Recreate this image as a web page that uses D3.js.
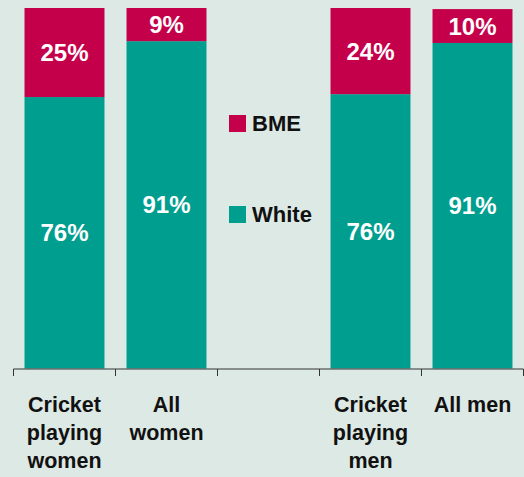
<!DOCTYPE html>
<html>
<head>
<meta charset="utf-8">
<script src="https://cdn.jsdelivr.net/npm/d3@7"></script>
<style>
    html, body { margin: 0; padding: 0; background: #dde9e4; }
    svg { display: block; font-family: "Liberation Sans", Arial, sans-serif; }
</style>
</head>
<body>
<svg id="chart-svg" width="524" height="477"></svg>
<script>
const categories = ["cw", "aw", "gap", "cm", "am"]
const categoryLabels = [
    ["Cricket", "playing", "women"],
    ["All", "women"],
    [],
    ["Cricket", "playing", "men"],
    ["All men"],
]
const whiteValues = [75.3, 90.8, null, 76.1, 90.3]
const bmeValues = [24.7, 9.2, null, 23.9, 9.4]
const whiteLabels = ["76%", "91%", "", "76%", "91%"]
const bmeLabels = ["25%", "9%", "", "24%", "10%"]
const seriesNames = ["BME", "White"]

const colors = { BME: "#c5004a", White: "#009e8e" }

const svg = d3.select("#chart-svg")
const size = { x: 524, y: 477 }
const margin = { left: 13.5, right: 0.5, top: 8, bottom: 108.5 }

const x = d3.scaleBand(categories, [margin.left, size.x - margin.right])
    .paddingInner(0.216)
    .paddingOuter(0.108)
const y = d3.scaleLinear([0, 100], [size.y - margin.bottom, margin.top])

const rows = categories.map((c, i) => ({
    cat: c, White: whiteValues[i], BME: bmeValues[i],
    whiteLabel: whiteLabels[i], bmeLabel: bmeLabels[i], lines: categoryLabels[i],
})).filter(d => d.White != null)

const stack = d3.stack().keys(["White", "BME"])(rows)

svg.append("g").selectAll("g")
    .data(stack)
    .join("g")
    .attr("fill", s => colors[s.key])
    .selectAll("rect")
    .data(s => s)
    .join("rect")
    .attr("x", d => x(d.data.cat))
    .attr("width", x.bandwidth())
    .attr("y", d => y(d[1]))
    .attr("height", d => y(d[0]) - y(d[1]))

// value labels, centred in each segment
stack.forEach(s => {
    svg.append("g").selectAll("text")
        .data(s)
        .join("text")
        .attr("x", d => x(d.data.cat) + x.bandwidth() / 2)
        .attr("y", d => (y(d[0]) + y(d[1])) / 2)
        .attr("dy", "0.36em")
        .attr("text-anchor", "middle")
        .attr("fill", "#fff")
        .attr("font-weight", "bold")
        .attr("font-size", 24)
        .text(d => s.key == "White" ? d.data.whiteLabel : d.data.bmeLabel)
})

// axis with ticks on the band boundaries
const axisY = y(0) + 0.5
const axis = svg.append("g").attr("stroke", "#333").attr("stroke-width", 1)
axis.append("line")
    .attr("x1", x.range()[0]).attr("x2", x.range()[1])
    .attr("y1", axisY).attr("y2", axisY)
const bounds = categories.map(c => x(c) - x.step() * x.paddingInner() / 2)
bounds.push(x.range()[1])
axis.selectAll(".tick")
    .data(bounds)
    .join("line")
    .attr("class", "tick")
    .attr("x1", d => d).attr("x2", d => d)
    .attr("y1", axisY).attr("y2", axisY + 7)

// category labels
const catGroup = svg.append("g")
rows.forEach(r => {
    const t = catGroup.append("text")
        .attr("x", x(r.cat) + x.bandwidth() / 2)
        .attr("y", 411.5)
        .attr("text-anchor", "middle")
        .attr("font-weight", "bold")
        .attr("font-size", 21.5)
        .attr("fill", "#111")
    r.lines.forEach((line, i) => {
        t.append("tspan")
            .attr("x", x(r.cat) + x.bandwidth() / 2)
            .attr("dy", i == 0 ? 0 : 28.3)
            .text(line)
    })
})

// legend in the empty column
const legend = svg.append("g")
    .attr("transform", `translate(229, 0)`)
const legendY = [115, 206]
seriesNames.forEach((name, i) => {
    legend.append("rect")
        .attr("x", 0).attr("y", legendY[i])
        .attr("width", 17).attr("height", 17)
        .attr("fill", colors[name])
    legend.append("text")
        .attr("x", 23)
        .attr("y", legendY[i] + 16)
        .attr("font-weight", "bold")
        .attr("font-size", 22)
        .attr("fill", "#111")
        .text(name)
})
</script>
</body>
</html>
